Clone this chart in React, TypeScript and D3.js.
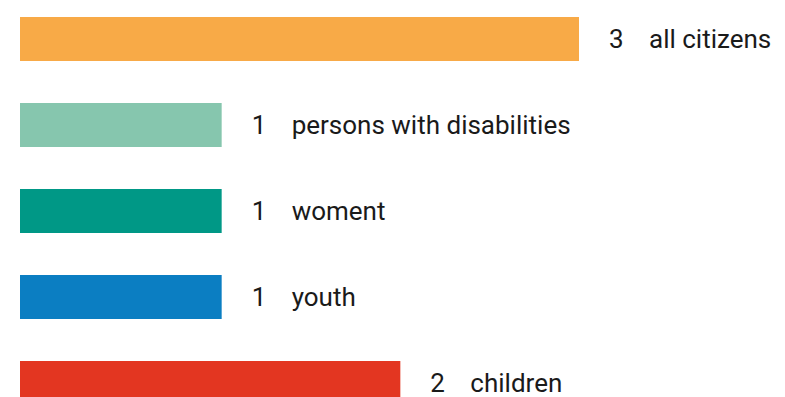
import React from "react";
import * as d3 from "d3";

const categories = ["all citizens", "persons with disabilities", "woment", "youth", "children"];
const values = [3, 1, 1, 1, 2];
const colors = ["#F8AA47", "#86C6AE", "#009886", "#0B7EC2", "#E33621"];

const W = 785;
const H = 397;

export default function App() {
  const y = d3
    .scaleBand<string>()
    .domain(categories)
    .range([-4, 426])
    .paddingInner(0.4884)
    .paddingOuter(0.2442);
  const x = d3.scaleLinear().domain([0, 3]).range([23, 559]);
  const left = 20;
  const fs = 26;

  return (
    <svg
      width={W}
      height={H}
      style={{ position: "absolute", left: 0, top: 0, fontFamily: "Roboto, sans-serif" }}
    >
      {categories.map((c, i) => {
        const y0 = y(c) as number;
        const bw = y.bandwidth();
        const xe = left + x(values[i]);
        const cy = y0 + bw / 2;
        return (
          <g key={c}>
            <rect x={left} y={y0} width={x(values[i])} height={bw} fill={colors[i]} />
            <text x={xe + 30} y={cy} dy="0.35em" fontSize={fs} fill="#1a1a1a">
              {values[i]}
            </text>
            <text x={xe + 70} y={cy} dy="0.35em" fontSize={fs} fill="#1a1a1a">
              {c}
            </text>
          </g>
        );
      })}
    </svg>
  );
}
